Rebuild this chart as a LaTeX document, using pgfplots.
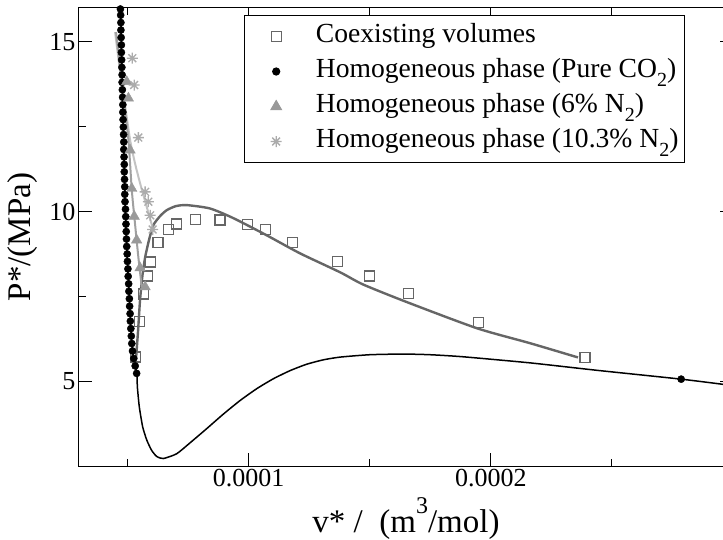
\documentclass[border=0pt]{standalone}
\usepackage{fontspec}
\setmainfont{Liberation Serif}
\usepackage{pgfplots}
\pgfplotsset{compat=1.18}
\definecolor{coex}{RGB}{102,102,102}
\definecolor{tric}{RGB}{153,153,153}
\definecolor{starc}{RGB}{172,172,172}
\definecolor{lineA}{RGB}{160,160,160}
\definecolor{lineB}{RGB}{195,195,195}
\pgfdeclareplotmark{star8}{%
  \pgfpathmoveto{\pgfpoint{0pt}{\pgfplotmarksize}}%
  \pgfpathlineto{\pgfpoint{0pt}{-\pgfplotmarksize}}%
  \pgfpathmoveto{\pgfpoint{\pgfplotmarksize}{0pt}}%
  \pgfpathlineto{\pgfpoint{-\pgfplotmarksize}{0pt}}%
  \pgfpathmoveto{\pgfpoint{0.7071\pgfplotmarksize}{0.7071\pgfplotmarksize}}%
  \pgfpathlineto{\pgfpoint{-0.7071\pgfplotmarksize}{-0.7071\pgfplotmarksize}}%
  \pgfpathmoveto{\pgfpoint{-0.7071\pgfplotmarksize}{0.7071\pgfplotmarksize}}%
  \pgfpathlineto{\pgfpoint{0.7071\pgfplotmarksize}{-0.7071\pgfplotmarksize}}%
  \pgfusepathqstroke}
\pgfplotsset{myleg/.style={legend image code/.code={\path (-25pt,0pt) (39pt,0pt); \draw[##1] plot coordinates {(0pt,0pt)};}}}
\newcommand{\sub}[1]{\raisebox{-0.32em}{\fontsize{20}{20}\selectfont #1}}
\begin{document}
\begin{tikzpicture}
\begin{axis}[name=ax, scale only axis, width=654pt, height=458pt,
  xmin=3e-5, xmax=3e-4, ymin=2.5, ymax=16,
  scaled x ticks=false,
  xtick={0.0001,0.0002}, xticklabels={0.0001,0.0002},
  minor xtick={0.00005,0.00015,0.00025},
  ytick={5,10,15}, minor ytick={7.5,12.5},
  major tick length=13pt, minor tick length=7pt,
  tick style={black, line width=1pt},
  axis line style={line width=1pt},
  tick label style={font=\fontsize{26}{26}\selectfont},
  /pgf/number format/assume math mode=true,
  xlabel={v* /\ \ (m\raisebox{0.55em}{\fontsize{24}{24}\selectfont 3}/mol)},
  ylabel={P*/(MPa)},
  label style={font=\fontsize{33}{33}\selectfont},
  xlabel style={at={(axis description cs:0.5,-0.1441)}, anchor=base},
  ylabel style={at={(axis description cs:-0.0856,0.5)}, anchor=center},
  legend cell align=left,
  legend style={at={(axis description cs:0.9266,0.9847)}, anchor=north east,
    draw=black, line width=1pt, font=\fontsize{27.6}{27.6}\selectfont,
    inner xsep=6pt, inner ysep=8pt, row sep=9pt,
    nodes={inner sep=0pt, text height=19pt, text depth=7pt}},
]
% EOS curve, pure CO2
\addplot[black, line width=1.5pt, smooth, tension=0.35, forget plot] coordinates {
(4.69e-5,16.5)(4.72e-5,15.94)(4.80e-5,13.29)(4.86e-5,11.7)(4.90e-5,10.34)
(4.97e-5,8.95)(5.11e-5,7.00)(5.19e-5,6.00)(5.30e-5,5.50)(5.39e-5,5.23)
(5.41e-5,4.83)(5.49e-5,4.24)(5.63e-5,3.65)(5.80e-5,3.26)(6.00e-5,2.96)
(6.21e-5,2.78)(6.48e-5,2.72)(7.03e-5,2.86)(7.58e-5,3.18)(8.27e-5,3.60)
(8.96e-5,4.03)(9.65e-5,4.43)(1.034e-4,4.78)(1.102e-4,5.07)(1.171e-4,5.31)
(1.240e-4,5.50)(1.309e-4,5.63)(1.378e-4,5.71)(1.500e-4,5.78)(1.638e-4,5.80)
(1.750e-4,5.78)(1.885e-4,5.72)(2.162e-4,5.54)(2.439e-4,5.32)(2.786e-4,5.06)(3.0e-4,4.87)};
% coexistence curve
\addplot[coex, line width=2.4pt, smooth, tension=0.4, forget plot] coordinates {
(5.35e-5,5.62)(5.44e-5,6.50)(5.52e-5,7.39)(5.62e-5,8.12)(5.73e-5,8.65)
(5.89e-5,9.16)(6.07e-5,9.60)(6.34e-5,9.86)(6.62e-5,10.04)(7.00e-5,10.16)
(7.45e-5,10.19)(8.41e-5,10.09)(9.36e-5,9.81)(1.075e-4,9.30)(1.212e-4,8.77)
(1.378e-4,8.21)(1.473e-4,7.85)(1.654e-4,7.33)(1.943e-4,6.56)(2.162e-4,6.12)
(2.360e-4,5.70)};
% 10.3% N2 curve
\addplot[lineB, line width=2pt, smooth, tension=0.4, forget plot] coordinates {
(4.49e-5,15.29)(4.69e-5,14.17)(4.90e-5,13.14)(5.11e-5,12.11)(5.31e-5,11.43)
(5.52e-5,10.84)(5.80e-5,10.13)(6.07e-5,9.45)};
% 6% N2 curve
\addplot[lineA, line width=2pt, smooth, tension=0.4, forget plot] coordinates {
(4.53e-5,15.29)(4.78e-5,13.73)(5.04e-5,12.11)(5.18e-5,10.63)(5.31e-5,9.66)
(5.45e-5,8.66)(5.59e-5,7.78)};
% Coexisting volumes
\addplot[only marks, mark=square, mark size=5pt, coex, line width=1.3pt, myleg] coordinates {
(5.33e-5,5.71)(5.51e-5,6.75)(5.65e-5,7.57)(5.82e-5,8.10)(5.95e-5,8.51)
(6.26e-5,9.08)(6.69e-5,9.48)(7.02e-5,9.63)(7.81e-5,9.76)(8.82e-5,9.75)
(9.97e-5,9.62)(1.069e-4,9.47)(1.181e-4,9.08)(1.367e-4,8.52)(1.499e-4,8.10)
(1.660e-4,7.58)(1.949e-4,6.74)(2.389e-4,5.70)};
\addlegendentry{Coexisting volumes}
% Pure CO2 homogeneous phase
\addplot[only marks, mark=*, mark size=3.6pt, black, myleg] coordinates {
(5.38e-5,5.23)(5.32e-5,5.45)(5.26e-5,5.67)(5.21e-5,5.89)(5.18e-5,6.11)
(5.16e-5,6.33)(5.14e-5,6.55)(5.12e-5,6.77)(5.11e-5,6.99)(5.09e-5,7.21)
(5.08e-5,7.43)(5.06e-5,7.65)(5.05e-5,7.87)(5.03e-5,8.09)(5.02e-5,8.31)
(5.00e-5,8.53)(4.99e-5,8.75)(4.97e-5,8.97)(4.96e-5,9.19)(4.95e-5,9.41)
(4.94e-5,9.63)(4.93e-5,9.85)(4.92e-5,10.07)(4.90e-5,10.29)(4.89e-5,10.51)
(4.89e-5,10.73)(4.88e-5,10.95)(4.87e-5,11.17)(4.87e-5,11.39)(4.86e-5,11.61)
(4.85e-5,11.83)(4.85e-5,12.05)(4.84e-5,12.27)(4.83e-5,12.49)(4.82e-5,12.71)
(4.81e-5,12.93)(4.81e-5,13.15)(4.80e-5,13.37)(4.79e-5,13.59)(4.78e-5,13.81)
(4.78e-5,14.03)(4.77e-5,14.25)(4.76e-5,14.47)(4.75e-5,14.69)(4.75e-5,14.91)
(4.74e-5,15.13)(4.73e-5,15.35)(4.73e-5,15.57)(4.72e-5,15.79)(4.71e-5,15.97)
(2.786e-4,5.06)};
\addlegendentry{Homogeneous phase (Pure CO\sub{2})}
% 6% N2
\addplot[only marks, mark=triangle*, mark size=6pt, tric, myleg] coordinates {
(4.97e-5,13.83)(5.04e-5,13.34)(5.11e-5,11.81)(5.18e-5,10.68)(5.28e-5,9.86)
(5.38e-5,9.16)(5.52e-5,8.34)(5.73e-5,7.78)};
\addlegendentry{Homogeneous phase (6\% N\sub{2})}
% 10.3% N2
\addplot[only marks, mark=star8, mark size=5.5pt, starc, line width=1.4pt, myleg] coordinates {
(5.20e-5,14.52)(5.28e-5,13.73)(5.45e-5,12.18)(5.73e-5,10.58)(5.86e-5,10.29)
(5.94e-5,9.89)(6.04e-5,9.47)};
\addlegendentry{Homogeneous phase (10.3\% N\sub{2})}
\end{axis}
\pgfresetboundingbox
\path[use as bounding box] ([shift={(-79pt,-73pt)}]ax.south west) rectangle ([shift={(-10pt,8pt)}]ax.north east);
\end{tikzpicture}
\end{document}
